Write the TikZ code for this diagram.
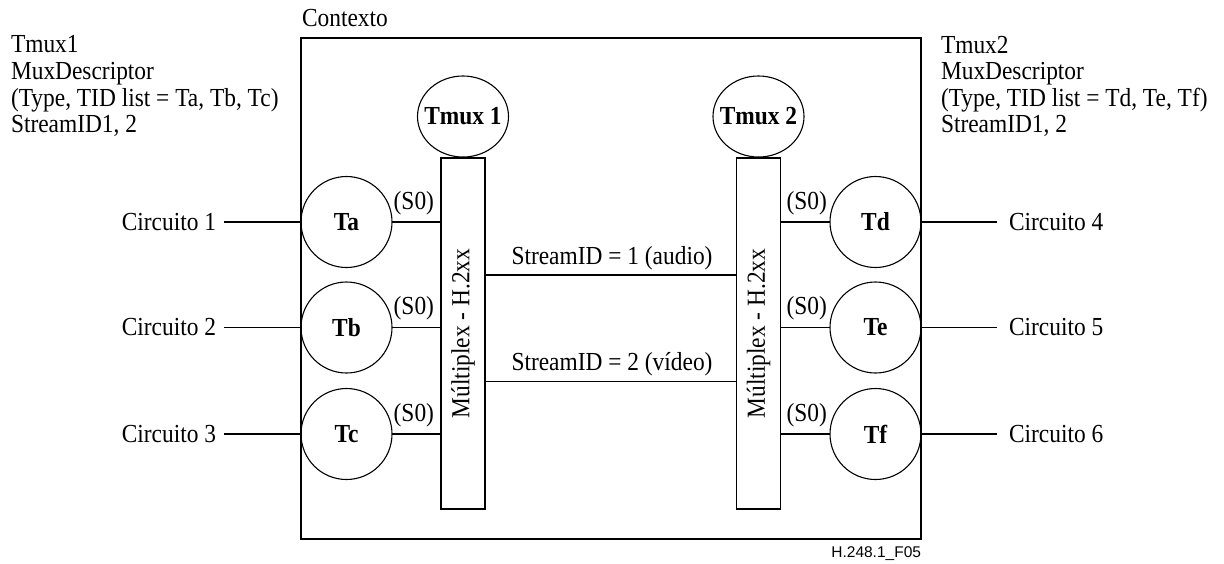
\documentclass[tikz,border=0pt]{standalone}
\usepackage{fontspec}
\setmainfont{Liberation Serif}[FakeStretch=0.9]
\newfontfamily\figsans{Liberation Sans}
\usetikzlibrary{shapes.geometric}

\begin{document}
\begin{tikzpicture}[x=1pt,y=-1pt,
  every node/.style={inner sep=0pt, outer sep=0pt},
  base/.style={font=\fontsize{26}{26.6}\selectfont},
  boldtxt/.style={font=\fontsize{26}{26.6}\selectfont\bfseries},
  wire/.style={line width=1.1pt},
  term/.style={circle, draw, line width=1.1pt, minimum size=91pt, boldtxt},
  muxterm/.style={ellipse, draw, line width=1.1pt, minimum width=91pt, minimum height=81pt},
  muxbar/.style={rectangle, draw, line width=1.1pt, minimum width=44pt, minimum height=351pt},
  szero/.style={base},
  label/.style={base}
]
\useasboundingbox (0,0) rectangle (1224,563);

% context frame
\draw[wire] (301,38) rectangle (921,539);
\node[label, anchor=base west] (ctx) at (302,26.5) {Contexto};

% descriptor notes
\node[label, anchor=north west, align=left] (note1) at (11,35.8)
  {Tmux1\\MuxDescriptor\\(Type, TID list = Ta, Tb, Tc)\\StreamID1, 2};
\node[label, anchor=north west, align=left] (note2) at (941,35.8)
  {Tmux2\\MuxDescriptor\\(Type, TID list = Td, Te, Tf)\\StreamID1, 2};

% multiplex terminations
\node[muxterm] (tmux1) at (463,116.5) {};
\node[boldtxt] (tmux1txt) at (tmux1.center) {Tmux 1};
\node[muxterm] (tmux2) at (758.5,116.5) {};
\node[boldtxt] (tmux2txt) at (tmux2.center) {Tmux 2};

% multiplex bars
\node[muxbar] (bar1) at (463,333.5) {};
\node[muxbar] (bar2) at (758.5,333.5) {};
\node[base, rotate=90] (bar1txt) at (bar1.center) {Múltiplex - H.2xx};
\node[base, rotate=90] (bar2txt) at (bar2.center) {Múltiplex - H.2xx};

% bearer terminations
\node[term] (ta) at (346.5,222) {Ta};
\node[term] (tb) at (346.5,327.5) {Tb};
\node[term] (tc) at (346.5,434) {Tc};
\node[term] (td) at (875.5,222) {Td};
\node[term] (te) at (875.5,327.5) {Te};
\node[term] (tf) at (875.5,434) {Tf};

% circuits
\foreach \t/\n/\y in {ta/1/222, tb/2/327.5, tc/3/434} {
  \coordinate (c\t) at (224,\y);
  \node[label, anchor=east] (l\t) at (216,\y) {Circuito \n};
  \draw[wire] (c\t) -- (\t.west);
  \draw[wire] (\t.east) -- (\t.east -| bar1.west);
  \node[szero, anchor=base east] (s\t) at ([xshift=-7pt,yshift=13pt]\t.east -| bar1.west) {(S0)};
}
\foreach \t/\n/\y in {td/4/222, te/5/327.5, tf/6/434} {
  \coordinate (c\t) at (997,\y);
  \node[label, anchor=west] (l\t) at (1009,\y) {Circuito \n};
  \draw[wire] (\t.east) -- (c\t);
  \draw[wire] (\t.west) -- (\t.west -| bar2.east);
  \node[szero, anchor=base west] (s\t) at ([xshift=6pt,yshift=13pt]\t.west -| bar2.east) {(S0)};
}

% streams between the multiplexers
\coordinate (sa1) at (485,275);
\coordinate (sv1) at (485,381.5);
\draw[wire] (sa1 -| bar1.east) -- (sa1 -| bar2.west);
\draw[wire] (sv1 -| bar1.east) -- (sv1 -| bar2.west);
\node[label, anchor=base] (audio) at (612,264) {StreamID = 1 (audio)};
\node[label, anchor=base] (video) at (612,370.5) {StreamID = 2 (vídeo)};

% figure tag
\node[anchor=base east, font=\figsans\fontsize{15.5}{16}\selectfont] (tag) at (921,557.5) {H.248.1\_F05};
\end{tikzpicture}
\end{document}
